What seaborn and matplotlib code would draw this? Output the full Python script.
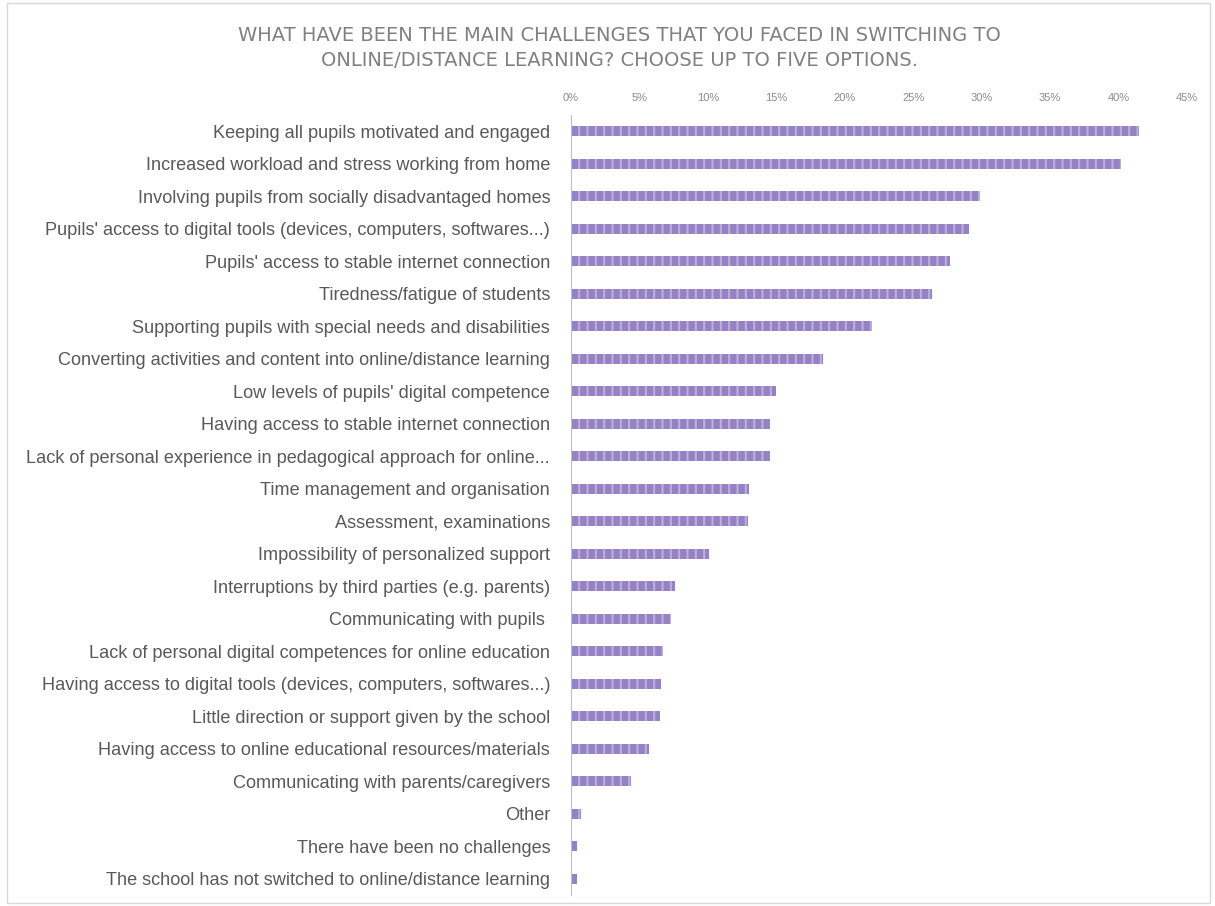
import matplotlib
matplotlib.use("Agg")
import matplotlib.pyplot as plt
import seaborn as sns
import pandas as pd
from matplotlib.ticker import FuncFormatter

challenges = [
    "Keeping all pupils motivated and engaged",
    "Increased workload and stress working from home",
    "Involving pupils from socially disadvantaged homes",
    "Pupils' access to digital tools (devices, computers, softwares...)",
    "Pupils' access to stable internet connection",
    "Tiredness/fatigue of students",
    "Supporting pupils with special needs and disabilities",
    "Converting activities and content into online/distance learning",
    "Low levels of pupils' digital competence",
    "Having access to stable internet connection",
    "Lack of personal experience in pedagogical approach for online...",
    "Time management and organisation",
    "Assessment, examinations",
    "Impossibility of personalized support",
    "Interruptions by third parties (e.g. parents)",
    "Communicating with pupils ",
    "Lack of personal digital competences for online education",
    "Having access to digital tools (devices, computers, softwares...)",
    "Little direction or support given by the school",
    "Having access to online educational resources/materials",
    "Communicating with parents/caregivers",
    "Other",
    "There have been no challenges",
    "The school has not switched to online/distance learning",
]
shares = [41.5, 40.2, 29.9, 29.1, 27.7, 26.4, 22.0, 18.4, 15.0, 14.5, 14.5, 13.0,
          12.9, 10.1, 7.6, 7.3, 6.7, 6.6, 6.5, 5.7, 4.4, 0.7, 0.4, 0.4]
tick_values = [0, 5, 10, 15, 20, 25, 30, 35, 40, 45]

df = pd.DataFrame({"challenge": challenges, "share": shares})

sns.set_style("white")
plt.rcParams["font.family"] = ["Liberation Sans", "DejaVu Sans"]
plt.rcParams["hatch.linewidth"] = 1.5

fig = plt.figure(figsize=(12.15, 9.06), dpi=100)
ax = fig.add_axes([0.47, 0.012, 0.507, 0.861])

sns.barplot(data=df, x="share", y="challenge", orient="h", color="#9482c4",
            width=0.3, saturation=1, ax=ax)
for bar in ax.patches:
    bar.set_hatch("||")
    bar.set_edgecolor("#bcb0db")
    bar.set_linewidth(0)

ax.set_xlim(0, 45)
ax.set_ylim(23.5, -0.5)
ax.set_xticks(tick_values)
ax.xaxis.set_major_formatter(FuncFormatter(lambda v, p: f"{v:.0f}%"))
ax.xaxis.tick_top()
ax.tick_params(axis="x", length=0, labelsize=8, labelcolor="#8c8c8c", pad=9)
ax.tick_params(axis="y", length=0, labelsize=13.1, labelcolor="#595959", pad=15)
ax.set_xlabel("")
ax.set_ylabel("")
for s in ["top", "right", "bottom"]:
    ax.spines[s].set_visible(False)
ax.spines["left"].set_color("#bfbfbf")

fig.text(0.51, 0.947, "WHAT HAVE BEEN THE MAIN CHALLENGES THAT YOU FACED IN SWITCHING TO\nONLINE/DISTANCE LEARNING? CHOOSE UP TO FIVE OPTIONS.",
         ha="center", va="center", fontsize=14, color="#808080", linespacing=1.4,
         family="DejaVu Sans")

border = plt.Rectangle((0.006, 0.003), 0.99, 0.994, transform=fig.transFigure,
                       fill=False, edgecolor="#d9d9d9", linewidth=1)
fig.patches.append(border)

fig.savefig("out.png", dpi=100)
